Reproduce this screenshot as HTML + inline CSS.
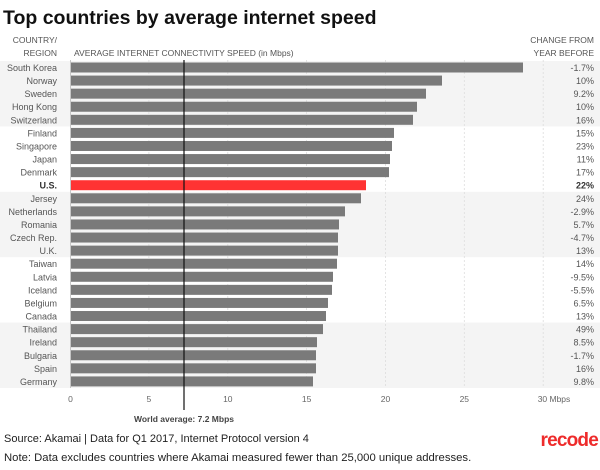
<!DOCTYPE html>
<html><head><meta charset="utf-8"><style>
body{margin:0;background:#fff;width:600px;height:465px;overflow:hidden;font-family:"Liberation Sans",sans-serif}
</style></head><body>
<svg width="600" height="465" xmlns="http://www.w3.org/2000/svg" font-family="Liberation Sans, sans-serif">
<text x="3" y="24" font-size="19.5" font-weight="bold" fill="#111">Top countries by average internet speed</text>
<g font-size="8.5" fill="#555">
<text x="57" y="43" text-anchor="end">COUNTRY/</text>
<text x="57" y="56" text-anchor="end">REGION</text>
<text x="74" y="56">AVERAGE INTERNET CONNECTIVITY SPEED (in Mbps)</text>
<text x="594" y="43" text-anchor="end">CHANGE FROM</text>
<text x="594" y="56" text-anchor="end">YEAR BEFORE</text>
</g>
<g fill="#f4f4f4">
<rect x="0" y="61" width="600" height="65.4"/>
<rect x="0" y="191.8" width="600" height="65.4"/>
<rect x="0" y="322.6" width="600" height="65.4"/>
</g>
<g stroke="#ddd" stroke-dasharray="2,2" stroke-width="0.8">
<line x1="148.9" y1="60" x2="148.9" y2="388"/><line x1="227.8" y1="60" x2="227.8" y2="388"/>
<line x1="306.6" y1="60" x2="306.6" y2="388"/><line x1="385.5" y1="60" x2="385.5" y2="388"/>
<line x1="464.3" y1="60" x2="464.3" y2="388"/><line x1="543.2" y1="60" x2="543.2" y2="388"/>
</g>
<line x1="70.5" y1="60" x2="70.5" y2="388" stroke="#bbb" stroke-width="0.8"/>
<g id="rows" font-size="9" fill="#555"></g>
<line x1="184" y1="60" x2="184" y2="410" stroke="#111" stroke-width="1.2"/>
<g font-size="8.5" fill="#666" text-anchor="middle">
<text x="70.5" y="402">0</text><text x="148.9" y="402">5</text><text x="227.8" y="402">10</text>
<text x="306.6" y="402">15</text><text x="385.5" y="402">20</text><text x="464.3" y="402">25</text>
<text x="554" y="402">30 Mbps</text>
</g>
<text x="184" y="422" font-size="8.5" font-weight="bold" fill="#444" text-anchor="middle">World average: 7.2 Mbps</text>
<text x="4" y="442" font-size="11" fill="#222">Source: Akamai | Data for Q1 2017, Internet Protocol version 4</text>
<text x="4" y="461" font-size="11.3" fill="#222">Note: Data excludes countries where Akamai measured fewer than 25,000 unique addresses.</text>
<text x="598" y="446" font-size="19" font-weight="bold" fill="#ee2b2b" text-anchor="end" letter-spacing="-0.8">recode</text>
</svg>
<script>
var d=[["South Korea",523,"-1.7%"],["Norway",442,"10%"],["Sweden",426,"9.2%"],["Hong Kong",417,"10%"],["Switzerland",413,"16%"],["Finland",394,"15%"],["Singapore",392,"23%"],["Japan",390,"11%"],["Denmark",389,"17%"],["U.S.",366,"22%"],["Jersey",361,"24%"],["Netherlands",345,"-2.9%"],["Romania",339,"5.7%"],["Czech Rep.",338,"-4.7%"],["U.K.",338,"13%"],["Taiwan",337,"14%"],["Latvia",333,"-9.5%"],["Iceland",332,"-5.5%"],["Belgium",328,"6.5%"],["Canada",326,"13%"],["Thailand",323,"49%"],["Ireland",317,"8.5%"],["Bulgaria",316,"-1.7%"],["Spain",316,"16%"],["Germany",313,"9.8%"]];
var g=document.getElementById("rows"),s="";
d.forEach(function(r,i){var y=62.5+i*13.08,us=r[0]=="U.S.";
s+='<rect x="71" y="'+y+'" width="'+(r[1]-71)+'" height="10" fill="'+(us?"#ff3333":"#7a7a7a")+'"/>';
s+='<text x="57" y="'+(y+8.5)+'" text-anchor="end"'+(us?' font-weight="bold" fill="#333"':'')+'>'+r[0]+'</text>';
s+='<text x="594" y="'+(y+8.5)+'" text-anchor="end"'+(us?' font-weight="bold" fill="#333"':'')+'>'+r[2]+'</text>';});
g.innerHTML=s;
</script>
</body></html>
